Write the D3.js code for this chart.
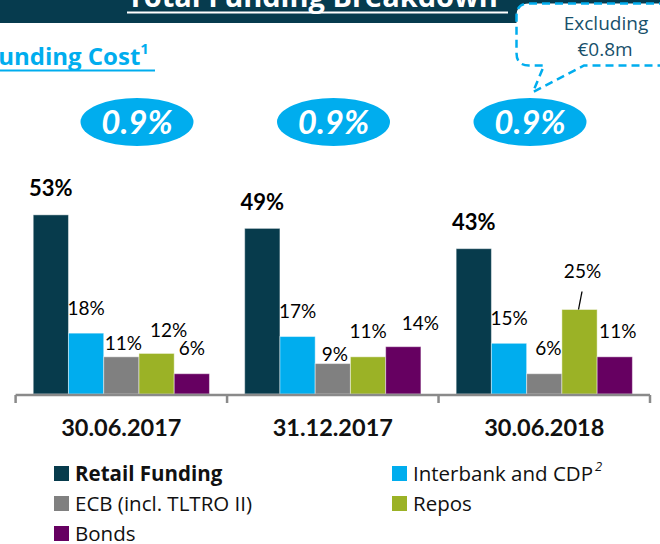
<!DOCTYPE html>
<html lang="en">
<head>
    <meta charset="UTF-8">
    <title>Total Funding Breakdown</title>
    <script src="https://cdn.jsdelivr.net/npm/d3@7"></script>
    <style>
        html, body { margin: 0; padding: 0; background: #fff; }
        svg { display: block; font-family: Lato, "Open Sans", sans-serif; }
        .wide { font-family: "Open Sans", Lato, sans-serif; }
    </style>
</head>
<body>
<svg width="660" height="544"></svg>
<script>
    // data
    var dates = ["30.06.2017", "31.12.2017", "30.06.2018"];
    var series = ["Retail Funding", "Interbank and CDP", "ECB (incl. TLTRO II)", "Repos", "Bonds"];
    var retail = [53, 49, 43];
    var interbank = [18, 17, 15];
    var ecb = [11, 9, 6];
    var repos = [12, 11, 25];
    var bonds = [6, 14, 11];
    var fundingCost = ["0.9%", "0.9%", "0.9%"];

    var values = [retail, interbank, ecb, repos, bonds];
    var color = ["#073B4C", "#00ADEE", "#808080", "#9BB226", "#660061"];

    // label nudges so the small labels don't sit on each other (like on the slide)
    var nudge = {
        "0-2": [2, 12], "0-3": [12, 2],
        "1-2": [2, 16], "1-4": [17, 2],
        "2-2": [4, 0], "2-3": [3, -13], "2-4": [3, 0]
    };

    var svg = d3.select("svg");

    var x0 = d3.scaleBand().domain(dates).range([15.6, 650]);
    var x1 = d3.scaleBand().domain(series).range([0, x0.bandwidth()]).paddingOuter(0.5);
    var y = d3.scaleLinear().domain([0, 60]).range([394, 394 - 202.8]);
    var xc = d3.scalePoint().domain(dates).range([137, 530]);

    // header band
    svg.append("rect").attr("x", 0).attr("y", 0).attr("width", 660).attr("height", 23)
        .attr("fill", "#063B4E");
    svg.append("text").attr("x", 127).attr("y", 7).attr("class", "wide")
        .attr("fill", "#fff").attr("font-weight", "bold").attr("font-size", 29)
        .text("Total Funding Breakdown");
    svg.append("line").attr("x1", 127).attr("x2", 508).attr("y1", 12.5).attr("y2", 12.5)
        .attr("stroke", "#fff").attr("stroke-width", 2);

    // callout box
    svg.append("path")
        .attr("d", "M 680 3.5 L 529 3.5 Q 516.5 3.5 516.5 16 L 516.5 53 Q 516.5 65.5 529 65.5 " +
            "L 544 65.5 L 533 92 L 584 65.5 L 680 65.5 Z")
        .attr("fill", "#fff").attr("stroke", "#00ADEE").attr("stroke-width", 2.5)
        .attr("stroke-dasharray", "8,5");
    svg.append("text").attr("x", 606).attr("y", 30).attr("text-anchor", "middle").attr("class", "wide")
        .attr("font-size", 19).attr("fill", "#17506B").text("Excluding");
    svg.append("text").attr("x", 605).attr("y", 56).attr("text-anchor", "middle").attr("class", "wide")
        .attr("font-size", 19).attr("fill", "#17506B").text("€0.8m");

    // funding cost subtitle
    var fc = svg.append("text").attr("x", -15).attr("y", 65).attr("class", "wide")
        .attr("fill", "#00ADEE").attr("font-weight", "bold").attr("font-size", 24);
    fc.append("tspan").text("Funding Cost");
    fc.append("tspan").attr("font-size", 15).attr("dy", -11).text("1");
    svg.append("line").attr("x1", 0).attr("x2", 155).attr("y1", 70.5).attr("y2", 70.5)
        .attr("stroke", "#00ADEE").attr("stroke-width", 2);

    // funding cost bubbles
    var bub = svg.selectAll(".bubble").data(dates).enter().append("g").attr("class", "bubble");
    bub.append("ellipse")
        .attr("cx", function (d) { return xc(d); })
        .attr("cy", 122).attr("rx", 56.5).attr("ry", 24)
        .attr("fill", "#00ADEE");
    bub.append("text")
        .attr("x", function (d) { return xc(d); })
        .attr("y", 134).attr("text-anchor", "middle")
        .attr("fill", "#fff").attr("font-weight", "bold").attr("font-style", "italic")
        .attr("font-size", 33)
        .text(function (d, i) { return fundingCost[i]; });

    // bars
    var cells = [];
    dates.forEach(function (d, i) {
        series.forEach(function (s, j) {
            cells.push({date: d, series: s, v: values[j][i], i: i, j: j});
        });
    });

    svg.selectAll(".bar").data(cells).enter().append("rect")
        .attr("class", "bar")
        .attr("x", function (d) { return x0(d.date) + x1(d.series); })
        .attr("y", function (d) { return y(d.v); })
        .attr("width", x1.bandwidth())
        .attr("height", function (d) { return y(0) - y(d.v); })
        .attr("fill", function (d) { return color[d.j]; })
        .attr("stroke", "#ffffff").attr("stroke-opacity", 0.45).attr("stroke-width", 1);

    svg.selectAll(".lbl").data(cells).enter().append("text")
        .attr("class", "lbl")
        .attr("x", function (d) {
            var n = nudge[d.i + "-" + d.j] || [0, 0];
            return x0(d.date) + x1(d.series) + x1.bandwidth() / 2 + n[0];
        })
        .attr("y", function (d) {
            var n = nudge[d.i + "-" + d.j] || [0, 0];
            return y(d.v) - 18.5 + n[1];
        })
        .attr("text-anchor", "middle")
        .attr("font-size", function (d) { return d.j === 0 ? 22 : 19; })
        .attr("font-weight", function (d) { return d.j === 0 ? "bold" : "normal"; })
        .attr("fill", "#000")
        .text(function (d) { return d.v + "%"; });

    // leader line for the 25% repos label
    var rp = cells.filter(function (d) { return d.i === 2 && d.j === 3; })[0];
    var rx = x0(rp.date) + x1(rp.series) + x1.bandwidth() / 2;
    svg.append("line")
        .attr("x1", rx + 2.5).attr("y1", y(rp.v) - 18)
        .attr("x2", rx - 1).attr("y2", y(rp.v))
        .attr("stroke", "#000").attr("stroke-width", 1.3);

    // axis
    var ax = svg.append("g").attr("stroke", "#8a8a8a").attr("stroke-width", 2.5);
    ax.append("line").attr("x1", x0.range()[0]).attr("x2", x0.range()[1])
        .attr("y1", y(0) + 1).attr("y2", y(0) + 1);
    var bounds = dates.map(function (d) { return x0(d); }).concat([x0.range()[1]]);
    ax.selectAll(".tick").data(bounds).enter().append("line")
        .attr("x1", function (d) { return d; }).attr("x2", function (d) { return d; })
        .attr("y1", y(0) + 1).attr("y2", y(0) + 9);

    svg.selectAll(".cat").data(dates).enter().append("text")
        .attr("class", "cat")
        .attr("x", function (d) { return x0(d) + x0.bandwidth() / 2; })
        .attr("y", 436).attr("text-anchor", "middle")
        .attr("font-weight", "bold").attr("font-size", 23.5).attr("fill", "#111")
        .text(function (d) { return d; });

    // legend
    var legPos = [[54, 466], [392, 466], [54, 496], [392, 496], [54, 526]];
    var leg = svg.selectAll(".leg").data(series).enter().append("g").attr("class", "leg")
        .attr("transform", function (d, i) { return "translate(" + legPos[i][0] + "," + legPos[i][1] + ")"; });
    leg.append("rect").attr("width", 15).attr("height", 15)
        .attr("fill", function (d, i) { return color[i]; });
    var lt = leg.append("text").attr("x", 21).attr("y", 14.5).attr("class", "wide")
        .attr("font-size", 20.5).attr("fill", "#111")
        .attr("font-weight", function (d, i) { return i === 0 ? "bold" : "normal"; });
    lt.append("tspan").text(function (d) { return d; });
    lt.filter(function (d) { return d === "Interbank and CDP"; })
        .append("tspan").attr("font-size", 13).attr("font-style", "italic")
        .attr("dx", 2).attr("dy", -10).text("2");
</script>
</body>
</html>
